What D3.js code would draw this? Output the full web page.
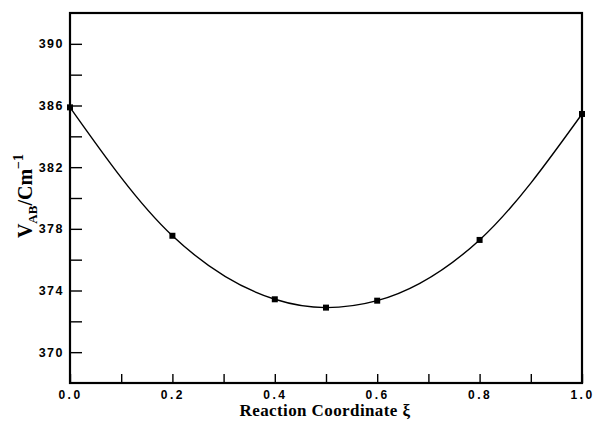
<!DOCTYPE html>
<html>
<head>
<meta charset="utf-8">
<script src="https://cdn.jsdelivr.net/npm/d3@7"></script>
<style>
  html, body { margin: 0; padding: 0; background: #fff; }
  svg { display: block; }
</style>
</head>
<body>
<svg id="chart" width="594" height="424"></svg>
<script>
// ---- data ----
const xi = [0.0, 0.2, 0.4, 0.5, 0.6, 0.8, 1.0];
const vab = [385.88, 377.55, 373.43, 372.89, 373.34, 377.28, 385.45];
const xTicks = [0, 0.1, 0.2, 0.3, 0.4, 0.5, 0.6, 0.7, 0.8, 0.9, 1.0];
const xTickLabels = ["0.0", "", "0.2", "", "0.4", "", "0.6", "", "0.8", "", "1.0"];
const yTicks = [370, 372, 374, 376, 378, 380, 382, 384, 386, 388, 390];
const yTickLabels = ["370", "", "374", "", "378", "", "382", "", "386", "", "390"];
const xDomain = [0, 1];
const yDomain = [368, 392];

// ---- layout ----
const svg = d3.select("#chart");
const L = 70, R = 582, T = 13, B = 383;
const x = d3.scaleLinear().domain(xDomain).range([L, R]);
const y = d3.scaleLinear().domain(yDomain).range([B, T]);

const tickFont = "'Liberation Sans', Arial, sans-serif";
const titleFont = "'Liberation Serif', 'Times New Roman', serif";

// x axis (ticks inward)
const xAxis = d3.axisBottom(x)
  .tickValues(xTicks)
  .tickSizeInner(-9).tickSizeOuter(0)
  .tickPadding(7)
  .tickFormat((d, i) => xTickLabels[i]);
const gx = svg.append("g").attr("transform", `translate(0,${B})`).call(xAxis);
gx.select(".domain").remove();
gx.selectAll(".tick line").attr("stroke", "#000").attr("stroke-width", 1.4);
gx.selectAll(".tick text")
  .attr("font-family", tickFont).attr("font-weight", "bold")
  .attr("font-size", 12).attr("letter-spacing", "2.5px").attr("fill", "#000");

// y axis (ticks inward)
const yAxis = d3.axisLeft(y)
  .tickValues(yTicks)
  .tickSizeInner(-12).tickSizeOuter(0)
  .tickPadding(6)
  .tickFormat((d, i) => yTickLabels[i]);
const gy = svg.append("g").attr("transform", `translate(${L},0)`).call(yAxis);
gy.select(".domain").remove();
gy.selectAll(".tick line").attr("stroke", "#000").attr("stroke-width", 1.4);
gy.selectAll(".tick text")
  .attr("font-family", tickFont).attr("font-weight", "bold")
  .attr("font-size", 12.5).attr("letter-spacing", "1.5px").attr("fill", "#000");

// frame
svg.append("rect")
  .attr("x", x(xDomain[0])).attr("y", y(yDomain[1]))
  .attr("width", x(xDomain[1]) - x(xDomain[0]))
  .attr("height", y(yDomain[0]) - y(yDomain[1]))
  .attr("fill", "none").attr("stroke", "#000").attr("stroke-width", 2.2);

// curve
const pts = xi.map((d, i) => [d, vab[i]]);
const line = d3.line()
  .x(d => x(d[0])).y(d => y(d[1]))
  .curve(d3.curveMonotoneX);
svg.append("path").datum(pts)
  .attr("d", line)
  .attr("fill", "none").attr("stroke", "#000").attr("stroke-width", 1.4);

// markers
const s = 6;
svg.append("g").selectAll("rect.pt").data(pts).enter().append("rect")
  .attr("x", d => x(d[0]) - s / 2).attr("y", d => y(d[1]) - s / 2)
  .attr("width", s).attr("height", s).attr("fill", "#000");

// x title
svg.append("text")
  .attr("x", (L + R) / 2 - 1).attr("y", 416)
  .attr("text-anchor", "middle")
  .attr("font-family", titleFont).attr("font-weight", "bold")
  .attr("font-size", 17).attr("letter-spacing", "0.4px")
  .text("Reaction Coordinate ξ");

// y title
const yt = svg.append("text")
  .attr("transform", "translate(32,196) rotate(-90)")
  .attr("text-anchor", "middle")
  .attr("font-family", titleFont).attr("font-weight", "bold")
  .attr("font-size", 20);
yt.append("tspan").text("V");
yt.append("tspan").attr("font-size", 13).attr("dy", 5).text("AB");
yt.append("tspan").attr("dy", -5).text("/Cm");
yt.append("tspan").attr("font-size", 14).attr("dy", -9).text("−1");
</script>
</body>
</html>
